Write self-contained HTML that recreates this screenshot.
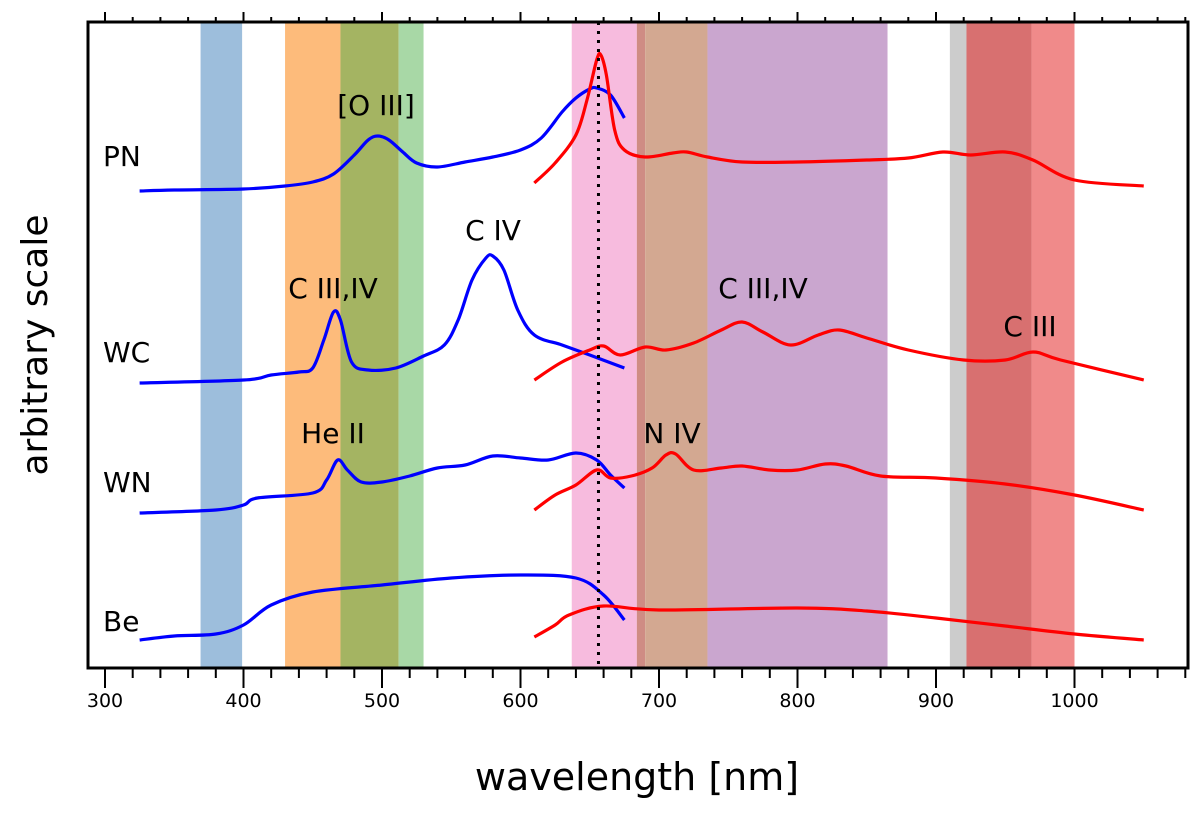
<!DOCTYPE html>
<html><head><meta charset="utf-8"><style>
body{margin:0;background:#fff}
svg text{font-family:"DejaVu Sans","Liberation Sans",sans-serif}
</style></head><body>
<svg id="chart" width="1200" height="817" xmlns="http://www.w3.org/2000/svg">
<g id="bands"></g><g id="curves"></g><g id="axes"></g><g id="labels"></g>
</svg>
<script>
const bandStarts=[369,430,470,512,637,684,690,735,910,922,969];
const bandEnds=[399,470,512,530,684,690,735,865,922,969,1000];
const bandColors=["#9dbedc","#fdbb7b","#a4b462","#a8d8a6","#f7bbde","#cf8c84","#d3a891","#caa6cf","#cccccc","#d87070","#f08a8a"];
const tickValues=[300,400,500,600,700,800,900,1000];
const tickLabels=["300","400","500","600","700","800","900","1000"];
const halphaLine=656.3;
const pnBlueX=[325,350,400,430,450,465,480,490,497,505,515,525,540,560,580,600,615,630,640,650,655,665,675];
const pnBlueY=[477,478,479,482,486,494,513,528,532,528,516,505,501,506,511,518,530,556,570,579,580,573,550];
const pnRedX=[610,625,640,648,655,658,662,668,675,690,710,720,735,760,800,850,880,905,925,950,970,1000,1050];
const pnRedY=[485,505,533,568,608,613,593,538,518,511,515,516,511,506,506,508,510,516,513,516,508,488,482];
const wcBlueX=[325,400,420,440,450,458,465,470,478,490,510,530,545,555,565,575,580,588,598,610,630,650,675];
const wcBlueY=[285,288,293,296,300,328,356,348,306,298,300,312,323,348,388,410,412,398,358,333,323,313,300];
const wcRedX=[610,630,650,660,672,690,705,725,745,760,775,795,815,830,850,880,920,950,970,990,1050];
const wcRedY=[288,306,318,322,313,321,318,325,338,346,336,323,333,338,330,318,308,308,316,308,288];
const wnBlueX=[325,380,400,410,450,460,468,475,485,500,520,540,560,580,600,620,640,655,665,675];
const wnBlueY=[155,158,163,170,175,188,208,198,186,186,192,200,203,212,210,208,215,208,193,180];
const wnRedX=[610,625,640,655,665,680,695,705,712,725,745,760,780,800,820,835,860,900,950,1000,1050];
const wnRedY=[158,173,183,198,190,192,200,213,214,198,200,202,198,198,204,202,192,190,184,173,158];
const beBlueX=[325,350,380,400,420,450,500,550,600,640,660,675];
const beBlueY=[28,32,34,43,63,76,83,90,93,90,73,48];
const beRedX=[610,625,635,660,700,800,850,900,950,1000,1050];
const beRedY=[31,43,53,62,58,60,57,50,42,34,28];

const L=88,R=1188,T=22,B=668;
const xs=l=>105+(l-300)*1.385;
const ys=v=>B-v;
const NS="http://www.w3.org/2000/svg";
function mk(tag,attrs,parent){const e=document.createElementNS(NS,tag);for(const k in attrs)e.setAttribute(k,attrs[k]);document.getElementById(parent).appendChild(e);return e;}
for(let i=0;i<bandStarts.length;i++){
 const r=mk("rect",{x:xs(bandStarts[i]),y:T,width:xs(bandEnds[i])-xs(bandStarts[i]),height:B-T,fill:bandColors[i]},"bands");
 
 
}
function path(X,Y){
 const p=X.map((x,i)=>[xs(x),ys(Y[i])]);
 let d="M"+p[0][0]+","+p[0][1];
 for(let i=0;i<p.length-1;i++){
  const p0=p[Math.max(0,i-1)],p1=p[i],p2=p[i+1],p3=p[Math.min(p.length-1,i+2)];
  const c1=[p1[0]+(p2[0]-p0[0])/6,p1[1]+(p2[1]-p0[1])/6];
  const c2=[p2[0]-(p3[0]-p1[0])/6,p2[1]-(p3[1]-p1[1])/6];
  d+=" C"+c1+" "+c2+" "+p2;
 }
 return d;
}
const series=[["pn-blue",pnBlueX,pnBlueY,"#0000ff"],["pn-red",pnRedX,pnRedY,"#ff0000"],["wc-blue",wcBlueX,wcBlueY,"#0000ff"],["wc-red",wcRedX,wcRedY,"#ff0000"],["wn-blue",wnBlueX,wnBlueY,"#0000ff"],["wn-red",wnRedX,wnRedY,"#ff0000"],["be-blue",beBlueX,beBlueY,"#0000ff"],["be-red",beRedX,beRedY,"#ff0000"]];
series.forEach(s=>{
 const e=mk("path",{d:path(s[1],s[2]),fill:"none",stroke:s[3],"stroke-width":3.2},"curves");
 
 
});
const hl=mk("line",{x1:xs(halphaLine),x2:xs(halphaLine),y1:T,y2:B,stroke:"#000","stroke-width":3,"stroke-dasharray":"3,6"},"curves");


const fr=mk("rect",{x:L,y:T,width:R-L,height:B-T,fill:"none",stroke:"#000","stroke-width":3},"axes");


for(let l=300;l<=1080;l+=20){
 const major=tickValues.includes(l),len=major?20:10;
 mk("line",{x1:xs(l),x2:xs(l),y1:B,y2:B+len,stroke:"#000","stroke-width":2},"axes");
 mk("line",{x1:xs(l),x2:xs(l),y1:T,y2:T-len*0.5,stroke:"#000","stroke-width":2},"axes");
}
tickValues.forEach((v,i)=>{
 const t=mk("text",{x:xs(v),y:707,"font-size":19,"text-anchor":"middle"},"axes");
 t.textContent=tickLabels[i];
 
 
});
</script>
<script>
const lab=[["PN",103,166,"start","label-pn"],["WC",103,362,"start","label-wc"],["WN",103,492,"start","label-wn"],["Be",103,631,"start","label-be"],
["[O III]",376,115,"middle","ann-o3"],["C IV",493,240,"middle","ann-c4"],["C III,IV",333,298,"middle","ann-c34-blue"],["C III,IV",763,298,"middle","ann-c34-red"],["C III",1030,336,"middle","ann-c3"],["He II",333,443,"middle","ann-he2"],["N IV",672,443,"middle","ann-n4"]];
lab.forEach(a=>{
 const t=document.createElementNS("http://www.w3.org/2000/svg","text");
 t.setAttribute("x",a[1]);t.setAttribute("y",a[2]);t.setAttribute("font-size",28);t.setAttribute("text-anchor",a[3]);
 t.textContent=a[0];
 
 
 document.getElementById("labels").appendChild(t);
});
</script>
<svg style="position:absolute;left:0;top:0" width="1200" height="817" xmlns="http://www.w3.org/2000/svg">
<text x="637" y="790" font-size="38" text-anchor="middle" font-family="DejaVu Sans,Liberation Sans,sans-serif">wavelength [nm]</text>
<text transform="translate(47,345) rotate(-90)" font-size="36" text-anchor="middle" font-family="DejaVu Sans,Liberation Sans,sans-serif">arbitrary scale</text>
</svg>
</body></html>
